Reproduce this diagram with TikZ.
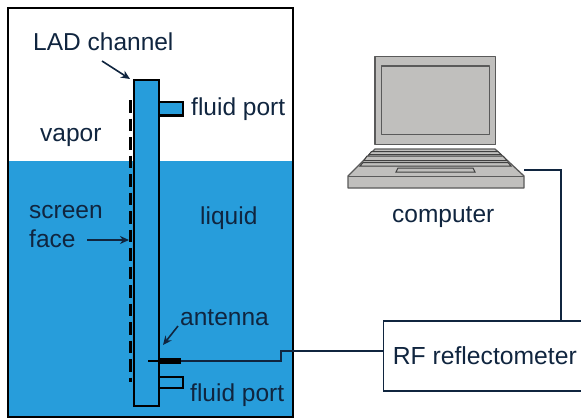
\documentclass[tikz,border=0pt]{standalone}
\usepackage{fontspec}
\setmainfont{Liberation Sans}
\usetikzlibrary{arrows.meta}
\definecolor{water}{HTML}{279DDB}
\definecolor{ink}{HTML}{10253F}
\definecolor{lapf}{HTML}{C0BFBD}
\definecolor{lapl}{HTML}{5A5A5A}
\tikzset{
  lbl/.style={font=\fontsize{24.5}{26}\selectfont,text=ink,inner sep=0pt,anchor=base west},
  wire/.style={draw=ink,line width=2.4pt},
  leader/.style={draw=ink,line width=1.6pt,-{Stealth[length=9pt,width=8pt]}},
  blk/.style={draw=black,line width=2.8pt},
  lap/.style={draw=lapl,line width=1.3pt,fill=lapf,line join=round},
  key/.style={draw=black!75,line width=1pt,fill=lapf}
}
\begin{document}
\begin{tikzpicture}[x=1pt,y=-1pt]
\useasboundingbox (0,0) rectangle (581,418);
\fill[white] (0,0) rectangle (581,418);
% tank
\fill[water] (8,161) rectangle (293,417);
\draw[blk] (8,8) rectangle (293,417);
% ports and channel
\draw[blk,fill=water] (159,102) rectangle (183,115.5);
\draw[blk,fill=water] (159,377) rectangle (183,388);
\draw[blk,fill=water] (134,80) rectangle (159,406);
% screen
\draw[draw=black,line width=2.8pt,dash pattern=on 12.5pt off 6pt] (130.5,100) -- (130.5,382);
% antenna
\coordinate (antA) at (148,361);
\coordinate (antB) at (181,361);
\draw[black,line width=2pt] (antA) -- (159,361);
\draw[black,line width=6pt] (158,361) -- (antB);
% laptop
\draw[lap] (375,56.5) rectangle (495.5,144.5);
\draw[lap] (381.5,66) rectangle (489.5,134.5);
\draw[lap] (375,149) -- (495,149) -- (524,176) -- (524,188) -- (348,188) -- (348,176) -- cycle;
\draw[lapl,line width=1pt] (348,176) -- (524,176);
\draw[key] (371.5,151.5) -- (498,151.5) -- (501,154.5) -- (369,154.5) -- cycle;
\draw[key] (367,156) -- (503,156) -- (507,160.5) -- (364,160.5) -- cycle;
\draw[key] (363,162.5) -- (508,162.5) -- (511,166) -- (360,166) -- cycle;
\draw[key] (398,168) -- (473,168) -- (475,172) -- (396,172) -- cycle;
\coordinate (lapR) at (524,170);
% reflectometer
\node[draw=ink,line width=1.6pt,fill=white,minimum width=198pt,minimum height=70pt,inner sep=0pt,anchor=north west,font=\fontsize{24.7}{26}\selectfont,text=ink] (rf) at (382.5,320) {\hspace*{5pt}RF reflectometer};
% wires
\draw[wire] (antB) -- (281,361) -- (281,351) -- (rf.west |- 0,351);
\draw[wire] (lapR) -- (561,170) -- (561,320);
% labels
\node[lbl] (lad) at (33,50) {LAD channel};
\node[lbl] (vapor) at (40,141) {vapor};
\node[lbl] (fp1) at (191,115) {fluid port};
\node[lbl] (screen) at (29,218) {screen};
\node[lbl] (face) at (29,247) {face};
\node[lbl] (liquid) at (200,224) {liquid};
\node[lbl] (ant) at (180,325) {antenna};
\node[lbl] (fp2) at (190,401) {fluid port};
\node[lbl] (comp) at (392,222) {computer};
% leaders
\coordinate (ladTip) at (130,79);
\coordinate (ladTail) at (102,61);
\coordinate (faceTip) at (129,240);
\coordinate (faceTail) at (87,240);
\coordinate (antTip) at (163,345);
\coordinate (antTail) at (178,326);
\draw[leader] (ladTail) -- (ladTip);
\draw[leader] (faceTail) -- (faceTip);
\draw[leader] (antTail) -- (antTip);
\end{tikzpicture}
\end{document}
